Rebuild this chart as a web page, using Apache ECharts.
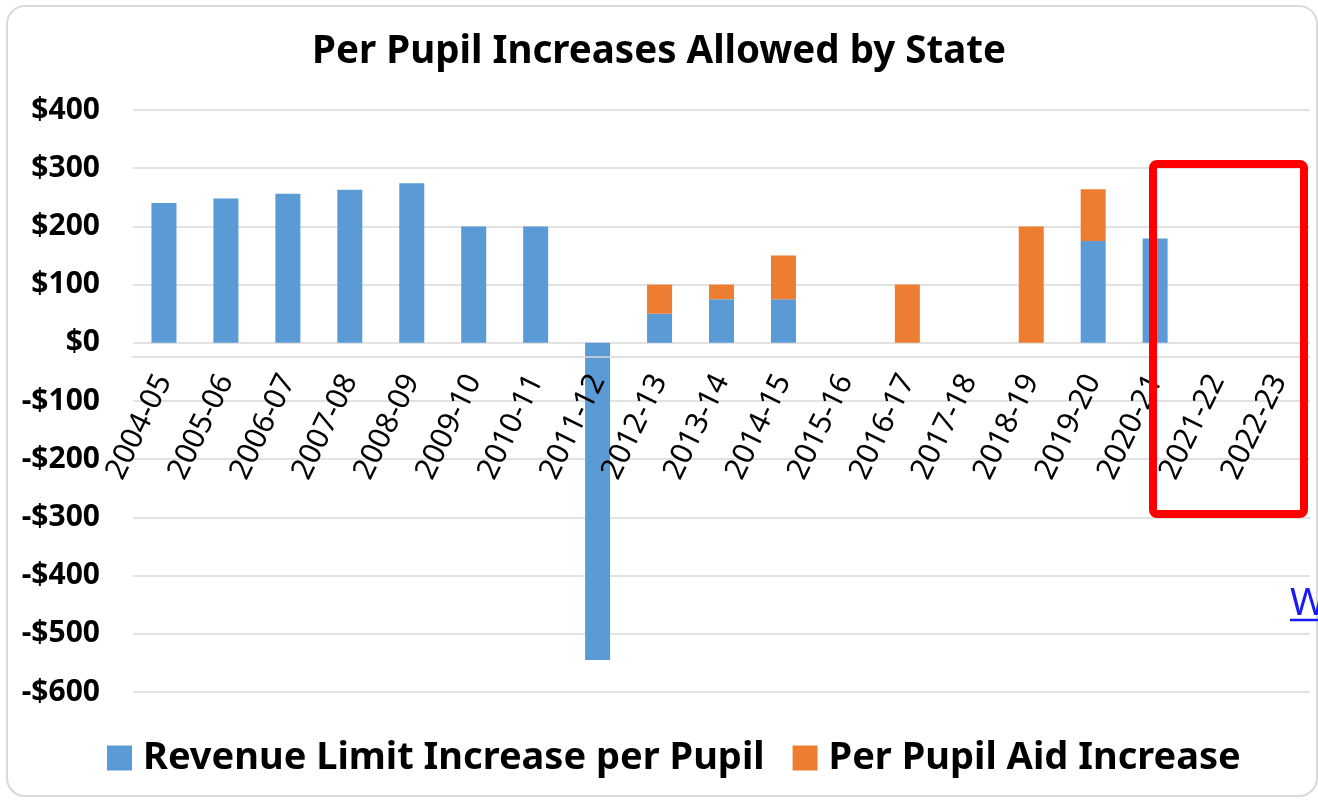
<!DOCTYPE html>
<html>
<head>
<meta charset="utf-8">
<script src="https://cdn.jsdelivr.net/npm/echarts@6/dist/echarts.min.js"></script>
<style>
  html, body { margin: 0; padding: 0; background: #fff; }
  #chart { width: 1318px; height: 800px; }
</style>
</head>
<body>
<div id="chart"></div>
<script>
  const years = ['2004-05', '2005-06', '2006-07', '2007-08', '2008-09', '2009-10', '2010-11',
    '2011-12', '2012-13', '2013-14', '2014-15', '2015-16', '2016-17', '2017-18', '2018-19',
    '2019-20', '2020-21', '2021-22', '2022-23'];
  const revenueLimit = [240, 248, 256, 263, 274, 200, 200, -545, 50, 75, 75, 0, 0, 0, 0, 175, 179, null, null];
  const aidIncrease = [null, null, null, null, null, null, null, null, 50, 25, 75, 0, 100, 0, 200, 89, null, null, null];
  const yMin = -600;
  const yMax = 400;

  const font = '"Noto Sans", sans-serif';
  const chart = echarts.init(document.getElementById('chart'));

  const option = {
    animation: false,
    backgroundColor: '#fff',
    title: {
      text: 'Per Pupil Increases Allowed by State',
      left: 'center',
      top: 28,
      textStyle: { fontFamily: font, fontSize: 38.5, fontWeight: 'bold', color: '#000' }
    },
    color: ['#5b9bd5', '#ed7d31'],
    legend: {
      bottom: 18,
      left: 102,
      itemWidth: 25,
      itemHeight: 25,
      itemGap: 28,
      icon: 'rect',
      textStyle: { fontFamily: font, fontSize: 38, fontWeight: 'bold', color: '#000', padding: [0, 0, 0, 6] },
      data: ['Revenue Limit Increase per Pupil', 'Per Pupil Aid Increase']
    },
    grid: { left: 133, right: 8, top: 110, bottom: 108, containLabel: false },
    xAxis: {
      type: 'category',
      data: years,
      z: 5,
      axisLine: { onZero: false, lineStyle: { color: '#d9d9d9', width: 1.5 } },
      axisTick: { show: false },
      axisLabel: {
        interval: 0,
        rotate: 64,
        margin: 20,
        fontFamily: font,
        fontSize: 30,
        color: '#000'
      }
    },
    yAxis: {
      type: 'value',
      min: yMin,
      max: yMax,
      interval: 100,
      splitLine: { lineStyle: { color: '#d9d9d9', width: 1.5 } },
      axisLine: { show: false },
      axisTick: { show: false },
      axisLabel: {
        margin: 33,
        fontFamily: font,
        fontSize: 30,
        fontWeight: 'bold',
        color: '#000',
        formatter: v => (v < 0 ? '-$' + Math.abs(v) : '$' + v)
      }
    },
    series: [
      {
        name: 'Revenue Limit Increase per Pupil',
        type: 'bar',
        stack: 'total',
        barWidth: 25,
        data: revenueLimit
      },
      {
        name: 'Per Pupil Aid Increase',
        type: 'bar',
        stack: 'total',
        barWidth: 25,
        data: aidIncrease
      }
    ],
    graphic: [
      {
        type: 'rect',
        shape: { x: 7, y: 6, width: 1310, height: 790, r: 18 },
        style: { fill: 'none', stroke: '#d9d9d9', lineWidth: 2 },
        z: 100
      },
      {
        type: 'rect',
        shape: { x: 1153, y: 164, width: 151, height: 350, r: 4 },
        style: { fill: 'none', stroke: '#ff0000', lineWidth: 8 },
        z: 100
      },
      {
        type: 'text',
        x: 1290,
        y: 585,
        style: { text: 'W', fontFamily: font, fontSize: 38, fill: '#1a1af5' },
        z: 100
      },
      {
        type: 'line',
        shape: { x1: 1290, y1: 620, x2: 1318, y2: 620 },
        style: { stroke: '#1a1af5', lineWidth: 2.5 },
        z: 100
      }
    ]
  };

  chart.setOption(option);

  // move the category axis up to the $0 line, like Excel does
  const zeroY = chart.convertToPixel({ yAxisIndex: 0 }, 0);
  const bottomY = chart.convertToPixel({ yAxisIndex: 0 }, yMin);
  chart.setOption({ xAxis: { offset: zeroY - bottomY } });
</script>
</body>
</html>
